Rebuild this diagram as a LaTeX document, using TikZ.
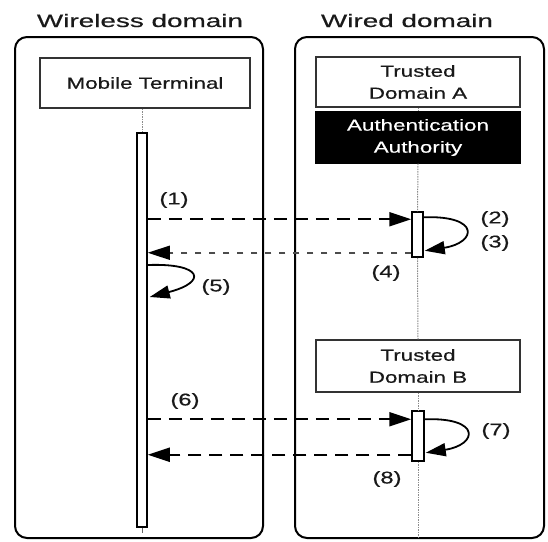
\documentclass[tikz,border=0pt]{standalone}
\usepackage{fontspec}
\setmainfont{Liberation Sans}[FakeStretch=1.4, FakeBold=0.5]
\newfontfamily\titlefont{Liberation Sans}[FakeStretch=1.55, FakeBold=0.5]
\usetikzlibrary{arrows.meta}

\begin{document}
\begin{tikzpicture}[x=1pt,y=-1pt,
  panel/.style={draw, line width=2pt, rounded corners=12pt},
  title/.style={anchor=base, font=\titlefont\fontsize{18}{20}\selectfont, text=black!90},
  objbox/.style={draw=black!80, line width=1.2pt, fill=white, align=center,
    inner sep=0pt, minimum width=204pt, minimum height=50pt,
    font=\fontsize{16}{22}\selectfont, text=black!90},
  authbox/.style={objbox, fill=black, draw=black, text=white},
  actbar/.style={draw, line width=1.5pt, fill=white, inner sep=0pt},
  lifeline/.style={draw=black!45, line width=1pt, dash pattern=on 1.5pt off 1pt},
  tip/.style={-{Triangle[length=22pt,width=14pt,color=black]}},
  msg/.style={tip, line width=2pt, dash pattern=on 13pt off 8pt},
  reply/.style={tip, line width=1.5pt, draw=black!70, dash pattern=on 6pt off 8pt},
  selfloop/.style={-{Triangle[length=20pt,width=13pt]}, line width=1.8pt},
  lbl/.style={font=\fontsize{17}{20}\selectfont, text=black!90}]
\useasboundingbox (0,0) rectangle (548,541);

% domain panels and their headings
\draw[panel] (15,37) rectangle (263,538);
\draw[panel] (295,37) rectangle (544,538);
\node[title] (wl) at (140,27) {Wireless domain};
\node[title] (wd) at (407,27) {Wired domain};

% objects
\node[objbox, minimum width=210pt] (mt) at (145,83) {Mobile Terminal};
\node[objbox] (tda) at (418,82) {Trusted\\Domain A};
\node[authbox, minimum height=51pt] (aa) at (418,137.5) {Authentication\\Authority};
\node[objbox, minimum height=52pt] (tdb) at (418,366) {Trusted\\Domain B};

% activation bars
\node[actbar, minimum width=10pt, minimum height=394pt] (mtbar) at (142,330) {};
\node[actbar, minimum width=11pt, minimum height=45pt] (acta) at (417.5,234.5) {};
\node[actbar, minimum width=12pt, minimum height=50pt] (actb) at (418,436) {};
\coordinate (mtend) at (142,533);
\coordinate (wend) at (418,537);

% lifelines
\draw[lifeline] (mt.south -| mtbar.north) -- (mtbar.north);
\draw[black!60, line width=1pt] (mtbar.south) -- (mtend);
\draw[lifeline] (tda.south) -- (aa.north);
\draw[lifeline] (aa.south) -- (acta.north);
\draw[lifeline] (acta.south) -- (tdb.north);
\draw[lifeline] (tdb.south) -- (actb.north);
\draw[lifeline] (actb.south) -- (wend);

% messages
\coordinate (p1) at ([yshift=-8pt]acta.north west);
\coordinate (p4) at ([yshift=5pt]acta.south west);
\coordinate (p6) at ([yshift=-9pt]actb.north west);
\coordinate (p8) at ([yshift=7pt]actb.south west);
\draw[msg] (mtbar.east |- p1) -- (p1);
\draw[reply] (p4) -- (mtbar.east |- p4);
\draw[msg] (mtbar.east |- p6) -- (p6);
\draw[msg] (p8) -- (mtbar.east |- p8);

% self calls
\coordinate (a2) at ([yshift=-6pt]acta.north east);
\coordinate (a3) at ([yshift=7pt,xshift=1pt]acta.south east);
\draw[selfloop] (a2) .. controls +(57,-2) and +(52,-8) .. (a3);
\coordinate (m5a) at (mtbar.east |- 0,265);
\coordinate (m5b) at ([xshift=2pt]mtbar.east |- 0,297);
\draw[selfloop] (m5a) .. controls +(55,-2) and +(58,-15) .. (m5b);
\coordinate (b7a) at ([yshift=-9pt]actb.north east);
\coordinate (b7b) at ([yshift=9pt,xshift=1pt]actb.south east);
\draw[selfloop] (b7a) .. controls +(57,-2) and +(52,-8) .. (b7b);

% step numbers
\node[lbl] (l1) at (174,200) {(1)};
\node[lbl] (l2) at (495,219) {(2)};
\node[lbl] (l3) at (495,243) {(3)};
\node[lbl] (l4) at (386,273) {(4)};
\node[lbl] (l5) at (216,287) {(5)};
\node[lbl] (l6) at (185,401) {(6)};
\node[lbl] (l7) at (496,431) {(7)};
\node[lbl] (l8) at (387,479) {(8)};
\end{tikzpicture}
\end{document}
